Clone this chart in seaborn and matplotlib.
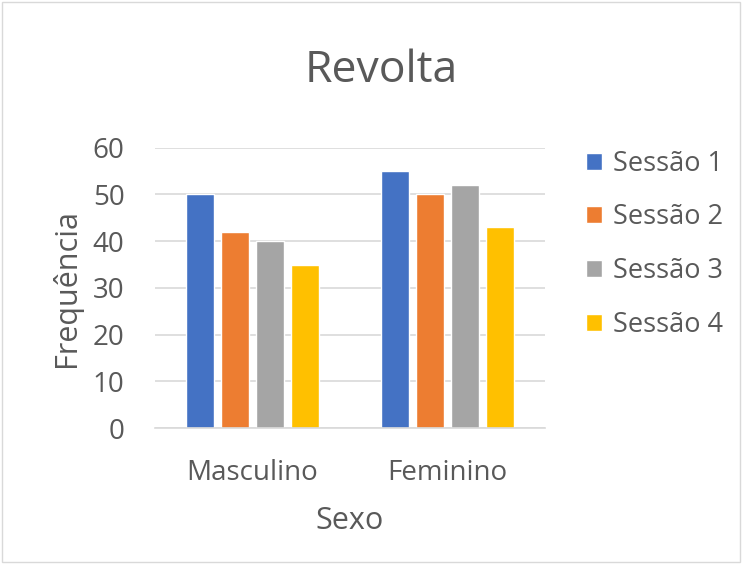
import numpy as np
import pandas as pd

import matplotlib
matplotlib.use('Agg')
import matplotlib.pyplot as plt
import seaborn as sns
from matplotlib.patches import Rectangle

# 데이터
sexo = ['Masculino', 'Feminino']
sessoes = ['Sessão 1', 'Sessão 2', 'Sessão 3', 'Sessão 4']
sessao_1 = [50, 55]
sessao_2 = [42, 50]
sessao_3 = [40, 52]
sessao_4 = [35, 43]

cores = ['#4472C4', '#ED7D31', '#A5A5A5', '#FFC000']
cinza = '#595959'

df = pd.DataFrame({'Sexo': sexo * 4,
                   'Sessao': np.repeat(sessoes, 2),
                   'Freq': sessao_1 + sessao_2 + sessao_3 + sessao_4})

sns.set_style('white')
plt.rcParams['font.family'] = ['Open Sans', 'DejaVu Sans']

fig = plt.figure(figsize=(7.42, 5.64), dpi=100)
ax = fig.add_axes([0.209, 0.241, 0.525, 0.497])

sns.barplot(data=df, x='Sexo', y='Freq', hue='Sessao', palette=cores,
            saturation=1, width=0.72, gap=0.2, ax=ax, legend=True)

ax.set_ylim(0, 60)
ax.set_yticks(range(0, 61, 10))
ax.yaxis.grid(True, color='#D9D9D9', linewidth=1.2)
ax.set_axisbelow(True)
for s in ['top', 'right', 'left']:
    ax.spines[s].set_visible(False)
ax.spines['bottom'].set_color('#D9D9D9')
ax.spines['bottom'].set_linewidth(1.2)
ax.tick_params(axis='both', length=0, labelsize=20, colors=cinza)
ax.tick_params(axis='y', pad=22)
ax.tick_params(axis='x', pad=22)

ax.set_xlabel('Sexo', fontsize=22, color=cinza, labelpad=14)
ax.set_ylabel('Frequência', fontsize=22, color=cinza, labelpad=8)
fig.text(0.514, 0.874, 'Revolta', fontsize=32, color=cinza, ha='center', va='center')

leg = ax.legend(loc='upper left', bbox_to_anchor=(1.044, 1.08), frameon=False,
                fontsize=19.5, handlelength=0.6, handleheight=0.6,
                labelspacing=0.95, handletextpad=0.4)
for t in leg.get_texts():
    t.set_color(cinza)

# 테두리
fig.patches.append(Rectangle((0.003, 0.003), 0.994, 0.994, transform=fig.transFigure,
                             fill=False, edgecolor='#D9D9D9', linewidth=1))

fig.savefig('out.png', dpi=100)
